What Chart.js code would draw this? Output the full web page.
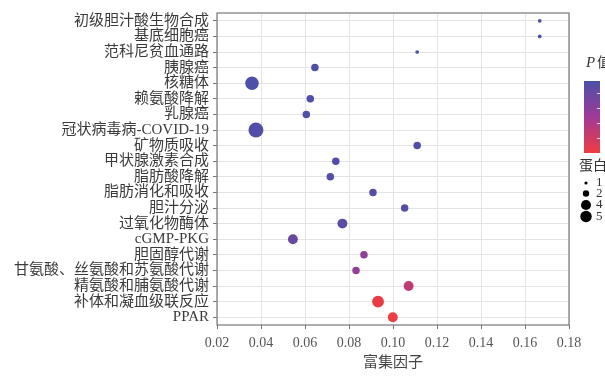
<!DOCTYPE html>
<html>
<head>
<meta charset="utf-8">
<script src="https://cdn.jsdelivr.net/npm/chart.js@4.4.0/dist/chart.umd.min.js"></script>
<style>
  html, body { margin: 0; padding: 0; background: #fff; }
  #wrap { width: 605px; height: 376px; position: relative; }
</style>
</head>
<body>
<div id="wrap"><canvas id="c"></canvas></div>
<script>
const pathways = [
  '初级胆汁酸生物合成', '基底细胞癌', '范科尼贫血通路', '胰腺癌', '核糖体',
  '赖氨酸降解', '乳腺癌', '冠状病毒病-COVID-19', '矿物质吸收', '甲状腺激素合成',
  '脂肪酸降解', '脂肪消化和吸收', '胆汁分泌', '过氧化物酶体', 'cGMP-PKG',
  '胆固醇代谢', '甘氨酸、丝氨酸和苏氨酸代谢', '精氨酸和脯氨酸代谢', '补体和凝血级联反应', 'PPAR'
];
const richFactor = [
  0.1667, 0.1667, 0.111, 0.0645, 0.0359,
  0.0624, 0.0606, 0.0377, 0.111, 0.074,
  0.0715, 0.0909, 0.1053, 0.077, 0.0545,
  0.0868, 0.0832, 0.1071, 0.0932, 0.0999
];
const proteinCount = [1, 1, 1, 2, 5, 2, 2, 6, 2, 2, 2, 2, 2, 3, 3, 2, 2, 3, 4, 3];
const pValue = [
  0.050, 0.050, 0.050, 0.049, 0.049,
  0.049, 0.049, 0.048, 0.048, 0.048,
  0.048, 0.047, 0.047, 0.045, 0.041,
  0.030, 0.029, 0.015, 0.0015, 0.001
];
const xTicks = [0.02, 0.04, 0.06, 0.08, 0.10, 0.12, 0.14, 0.16, 0.18];
const countLegend = [1, 2, 4, 5];

const pMax = 0.05;
const SERIF = '"Liberation Serif", "DejaVu Serif", "Noto Sans CJK SC", serif';

// red (low p) -> purple -> blue (high p)
const stops = [[240, 60, 64], [160, 58, 150], [75, 80, 168]];
function pColor(p) {
  let t = Math.max(0, Math.min(1, p / pMax));
  let a, b, f;
  if (t < 0.5) { a = stops[0]; b = stops[1]; f = t / 0.5; }
  else { a = stops[1]; b = stops[2]; f = (t - 0.5) / 0.5; }
  const c = a.map((v, i) => Math.round(v + (b[i] - v) * f));
  return 'rgb(' + c.join(',') + ')';
}
function sizeOf(n) { return Math.sqrt(10.5 * n - 7); }

const points = pathways.map((name, i) => ({ x: richFactor[i], y: name, r: sizeOf(proteinCount[i]) }));

const frameAndLegend = {
  id: 'frameAndLegend',
  afterDraw(chart) {
    const { ctx, chartArea: a } = chart;
    ctx.save();
    ctx.strokeStyle = '#777';
    ctx.lineWidth = 1.2;
    ctx.strokeRect(a.left, a.top, a.right - a.left, a.bottom - a.top);

    // p value colour bar
    ctx.fillStyle = '#333';
    ctx.textBaseline = 'middle';
    ctx.font = 'italic 15px ' + SERIF;
    ctx.fillText('P', 586, 63);
    ctx.font = '14px ' + SERIF;
    ctx.fillText('值', 597, 63);
    const bx = 584, by = 81, bw = 16, bh = 72;
    const g = ctx.createLinearGradient(0, by, 0, by + bh);
    g.addColorStop(0, pColor(pMax));
    g.addColorStop(0.5, pColor(pMax / 2));
    g.addColorStop(1, pColor(0));
    ctx.fillStyle = g;
    ctx.fillRect(bx, by, bw, bh);
    ctx.strokeStyle = 'rgba(255,255,255,0.8)';
    ctx.lineWidth = 1;
    [93, 108, 123, 138].forEach(y => {
      ctx.beginPath(); ctx.moveTo(bx + bw - 3, y + 0.5); ctx.lineTo(bx + bw, y + 0.5); ctx.stroke();
    });

    // protein count legend
    ctx.fillStyle = '#333';
    ctx.font = '14px ' + SERIF;
    ctx.fillText('蛋白数', 579, 166);
    const ys = [183, 193.5, 205, 216.5];
    countLegend.forEach((n, i) => {
      ctx.fillStyle = '#000';
      ctx.beginPath(); ctx.arc(586, ys[i], sizeOf(n) * 0.85, 0, Math.PI * 2); ctx.fill();
      ctx.fillStyle = '#333';
      ctx.font = '13px ' + SERIF;
      ctx.fillText(String(n), 596, ys[i]);
    });
    ctx.restore();
  }
};

new Chart(document.getElementById('c'), {
  type: 'bubble',
  data: {
    labels: pathways,
    datasets: [{
      data: points,
      backgroundColor: pValue.map(pColor),
      borderWidth: 0,
      hoverBorderWidth: 0
    }]
  },
  options: {
    responsive: true,
    maintainAspectRatio: false,
    animation: false,
    layout: { padding: { top: 12, right: 36, bottom: 0, left: 0 } },
    plugins: { legend: { display: false }, tooltip: { enabled: false } },
    scales: {
      x: {
        type: 'linear',
        min: 0.02,
        max: 0.18,
        afterBuildTicks: s => { s.ticks = xTicks.map(v => ({ value: v })); },
        afterFit: s => { s.height = 51; },
        border: { display: false },
        grid: { color: '#e4e4e4', tickColor: '#777', tickLength: 4 },
        ticks: {
          padding: 6,
          color: '#555',
          font: { family: SERIF, size: 14 },
          callback: v => v.toFixed(2),
          maxRotation: 0
        },
        title: {
          display: true,
          text: '富集因子',
          color: '#444',
          font: { family: SERIF, size: 15 },
          padding: { top: 0, bottom: 4 }
        }
      },
      y: {
        type: 'category',
        labels: pathways,
        offset: true,
        afterFit: s => { s.width = 217; },
        border: { display: false },
        grid: { color: '#e4e4e4', tickColor: '#777', tickLength: 4, offset: false },
        ticks: {
          padding: 4,
          color: '#3a3a3a',
          autoSkip: false,
          font: { family: SERIF, size: 15 }
        }
      }
    }
  },
  plugins: [frameAndLegend]
});
</script>
</body>
</html>
